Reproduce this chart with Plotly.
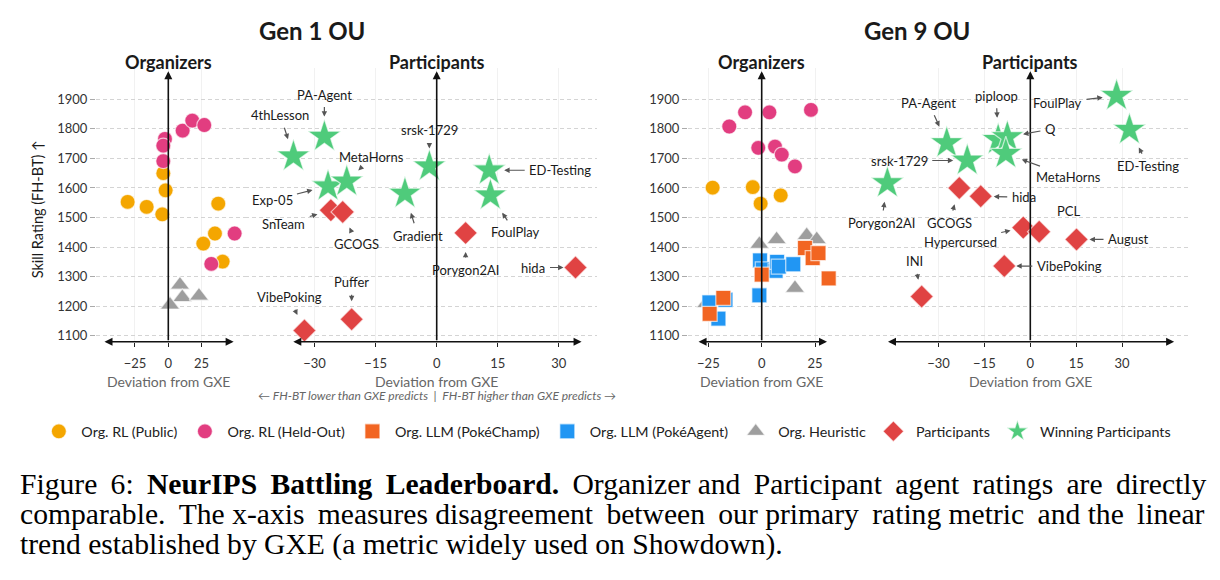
import plotly.graph_objects as go

# ---------------- data ----------------
# Gen 1 OU - organizers
g1_public_x = [-3.75, -2.0, -30.5, -16.25, -4.5, 37.5, 35.0, 26.25, 40.75]
g1_public_y = [1650, 1592, 1553, 1536, 1511, 1547, 1446, 1412, 1351]
g1_heldout_x = [-2.5, -3.75, -3.75, 10.75, 18.0, 27.0, 49.75, 32.25]
g1_heldout_y = [1766, 1743, 1691, 1794, 1828, 1813, 1446, 1343]
g1_heur_x = [8.75, 10.5, 23.0, 1.25]
g1_heur_y = [1272, 1230, 1235, 1205]
# Gen 1 OU - participants
g1_win_names = ["4thLesson", "PA-Agent", "Exp-05", "MetaHorns", "Gradient", "srsk-1729", "ED-Testing", "FoulPlay"]
g1_win_x = [-35.2, -27.6, -26.7, -22.1, -7.8, -1.8, 12.9, 13.2]
g1_win_y = [1707, 1774, 1606, 1622, 1581, 1673, 1660, 1575]
g1_part_names = ["SnTeam", "GCOGS", "Porygon2AI", "hida", "VibePoking", "Puffer"]
g1_part_x = [-26.0, -23.1, 7.1, 34.1, -32.5, -20.9]
g1_part_y = [1525, 1519, 1448, 1331, 1118, 1156]

# Gen 9 OU - organizers
g9_public_x = [-23.0, -4.2, 8.9, -0.5]
g9_public_y = [1601, 1603, 1575, 1547]
g9_heldout_x = [-15.2, -7.8, 3.6, 23.1, -1.6, 6.25, 9.4, 15.6]
g9_heldout_y = [1808, 1856, 1856, 1864, 1736, 1740, 1713, 1673]
g9_heur_x = [-1.1, 7.0, 21.1, 25.8, 15.6, -26.0]
g9_heur_y = [1410, 1426, 1440, 1426, 1261, 1210]
g9_agent_x = [-0.8, 0.5, 6.5, 7.2, 8.0, 14.8, -1.1, -24.5, -17.0, -20.3]
g9_agent_y = [1355, 1325, 1320, 1350, 1334, 1342, 1237, 1213, 1222, 1158]
g9_champ_x = [20.3, 23.9, 26.6, 31.4, 0.0, -18.0, -24.4]
g9_champ_y = [1397, 1363, 1380, 1294, 1307, 1228, 1174]
# Gen 9 OU - participants
g9_win_names = ["FoulPlay", "ED-Testing", "PA-Agent", "srsk-1729", "piploop", "Q", "MetaHorns", "Porygon2AI"]
g9_win_x = [28.2, 32.4, -27.3, -20.6, -10.5, -7.5, -8.0, -46.7]
g9_win_y = [1912, 1797, 1752, 1693, 1763, 1772, 1716, 1617]
g9_part_names = ["GCOGS", "hida", "Hypercursed", "PCL", "August", "VibePoking", "INI"]
g9_part_x = [-23.2, -16.2, -2.3, 2.9, 15.1, -8.5, -35.5]
g9_part_y = [1600, 1572, 1466, 1452, 1426, 1336, 1233]

y_ticks = [1100, 1200, 1300, 1400, 1500, 1600, 1700, 1800, 1900]
org_ticks = [-25, 0, 25]
part_ticks = [-30, -15, 0, 15, 30]

# ---------------- label placement (pixel offsets: ax, ay, standoff) ----------------
g1_label_pos = {
    "4thLesson": (-13, -41, 18), "PA-Agent": (0, -42, 20), "Exp-05": (-56, 14, 16),
    "MetaHorns": (25, -24, 16), "Gradient": (13, 42, 20), "srsk-1729": (0, -36, 18),
    "ED-Testing": (71, 0, 15), "FoulPlay": (25, 37, 21), "SnTeam": (-47, 14, 14),
    "GCOGS": (14, 32, 17), "Porygon2AI": (0, 37, 19), "hida": (-42, 0, 12),
    "VibePoking": (-15, -33, 17), "Puffer": (0, -37, 18),
}
g9_label_pos = {
    "piploop": (-2, -44, 22), "PA-Agent": (-18, -40, 18), "FoulPlay": (-59, 7, 14),
    "Q": (43, -8, 16), "ED-Testing": (19, 36, 20), "srsk-1729": (-68, 0, 14),
    "MetaHorns": (63, 23, 17), "hida": (43, 1, 13), "Porygon2AI": (-6, 40, 19),
    "GCOGS": (-10, 35, 17), "PCL": (29, -21, 16), "Hypercursed": (-63, 14, 13),
    "August": (52, 0, 13), "VibePoking": (65, 0, 12), "INI": (-7, -35, 17),
}

# ---------------- styles ----------------
FONT = "Lato"
C_PUBLIC = "#F4A600"
C_HELD = "#E23D80"
C_CHAMP = "#F26522"
C_AGENT = "#2196F3"
C_HEUR = "#9E9E9E"
C_PART = "#E04343"
C_WIN = "#4FCB7B"
EDGE = dict(color="rgba(255,255,255,0.65)", width=1.2)

W, H = 1220, 580

def px_x(p):
    return p / W

def px_y(p):
    return 1 - p / H

Y_RANGE = [1080, 2005]
Y_DOMAIN = [px_y(342.9), px_y(68.5)]

panels = {
    # name: (xaxis id, domain px, zero px, px per unit, ticks)
    "o1": ("x", (96, 245), 168.3, 1.333, org_ticks),
    "p1": ("x2", (245, 597), 436.7, 4.07, part_ticks),
    "o2": ("x3", (688, 855), 761.7, 2.133, org_ticks),
    "p2": ("x4", (855, 1190), 1030.3, 3.06, part_ticks),
}
arrow_span = {"o1": (-49, 49), "p1": (-35.6, 35.6), "o2": (-30.3, 30.6), "p2": (-47, 47)}

fig = go.Figure()

def add(xref, yref, x, y, name, color, symbol, size, group, rank, show, text=None):
    fig.add_trace(go.Scatter(
        x=x, y=y, mode="markers", name=name, legendgroup=group, legendrank=rank,
        showlegend=show, xaxis=xref, yaxis=yref, cliponaxis=False,
        marker=dict(color=color, symbol=symbol, size=size, line=EDGE),
        hovertext=text,
    ))

# Gen 1 organizers
add("x", "y", g1_heur_x, g1_heur_y, "Org. Heuristic", C_HEUR, "triangle-up", 17, "heur", 5, True)
add("x", "y", g1_public_x, g1_public_y, "Org. RL (Public)", C_PUBLIC, "circle", 15, "pub", 1, True)
add("x", "y", g1_heldout_x, g1_heldout_y, "Org. RL (Held-Out)", C_HELD, "circle", 15, "held", 2, True)
# Gen 1 participants
add("x2", "y2", g1_part_x, g1_part_y, "Participants", C_PART, "diamond", 18, "part", 6, True, g1_part_names)
add("x2", "y2", g1_win_x, g1_win_y, "Winning Participants", C_WIN, "star", 25, "win", 7, True, g1_win_names)
# Gen 9 organizers
add("x3", "y3", g9_heur_x, g9_heur_y, "Org. Heuristic", C_HEUR, "triangle-up", 17, "heur", 5, False)
add("x3", "y3", g9_public_x, g9_public_y, "Org. RL (Public)", C_PUBLIC, "circle", 15, "pub", 1, False)
add("x3", "y3", g9_heldout_x, g9_heldout_y, "Org. RL (Held-Out)", C_HELD, "circle", 15, "held", 2, False)
add("x3", "y3", g9_agent_x, g9_agent_y, "Org. LLM (PokéAgent)", C_AGENT, "square", 15, "agent", 4, True)
add("x3", "y3", g9_champ_x, g9_champ_y, "Org. LLM (PokéChamp)", C_CHAMP, "square", 15, "champ", 3, True)
# Gen 9 participants
add("x4", "y4", g9_part_x, g9_part_y, "Participants", C_PART, "diamond", 18, "part", 6, False, g9_part_names)
add("x4", "y4", g9_win_x, g9_win_y, "Winning Participants", C_WIN, "star", 25, "win", 7, False, g9_win_names)

annotations = []
layout_axes = {}
for i, (key, (xid, (d0, d1), zero, scale, ticks)) in enumerate(panels.items()):
    n = i + 1
    xr = [(d0 - zero) / scale, (d1 - zero) / scale]
    xname = "xaxis" if n == 1 else f"xaxis{n}"
    yname = "yaxis" if n == 1 else f"yaxis{n}"
    yid = "y" if n == 1 else f"y{n}"
    layout_axes[xname] = dict(
        domain=[px_x(d0), px_x(d1)], range=xr, anchor=yid, tickvals=ticks,
        showgrid=True, gridcolor="#f1f1f1", gridwidth=1, zeroline=False, showline=False,
        ticks="outside", ticklen=4, tickcolor="#222", tickwidth=1, ticklabelstandoff=6,
        tickfont=dict(family=FONT, size=13, color="#333"), fixedrange=True,
    )
    show_labels = key in ("o1", "o2")
    layout_axes[yname] = dict(
        domain=Y_DOMAIN, range=Y_RANGE, anchor=xid, tickvals=y_ticks,
        showgrid=True, gridcolor="#d4d4d4", griddash="4px,3px", gridwidth=1,
        zeroline=False, showline=False, showticklabels=show_labels,
        ticks="outside" if show_labels else "", ticklen=5, tickcolor="#aaa",
        tickfont=dict(family=FONT, size=13, color="#333"), fixedrange=True,
    )
    a0, a1 = arrow_span[key]
    annotations.append(dict(
        xref=xid, yref=yid, axref=xid, ayref=yid, x=a1, y=Y_RANGE[0], ax=a0, ay=Y_RANGE[0],
        text="", showarrow=True, arrowhead=2, arrowside="end+start", arrowsize=1,
        arrowwidth=1.6, arrowcolor="#111",
    ))
    annotations.append(dict(
        xref=xid, yref=yid, axref=xid, ayref=yid, x=0, y=1995, ax=0, ay=Y_RANGE[0],
        text="", showarrow=True, arrowhead=2, arrowsize=1, arrowwidth=1.6, arrowcolor="#111",
    ))
    annotations.append(dict(
        xref=xid, yref="paper", x=0, y=px_y(62),
        text="<b>%s</b>" % ("Organizers" if key[0] == "o" else "Participants"),
        showarrow=False, font=dict(family=FONT, size=18, color="#1a1a1a"),
        xanchor="center", yanchor="middle",
    ))
    annotations.append(dict(
        xref=xid, yref="paper", x=0, y=px_y(383), text="Deviation from GXE",
        showarrow=False, font=dict(family=FONT, size=14, color="#666"),
        xanchor="center", yanchor="middle",
    ))

def label(names, xs, ys, pos, xid, yid):
    for nm, xv, yv in zip(names, xs, ys):
        ax, ay, so = pos[nm]
        annotations.append(dict(
            xref=xid, yref=yid, x=xv, y=yv, ax=ax, ay=ay, text=nm, showarrow=True,
            arrowhead=2, arrowsize=0.9, arrowwidth=1.2, arrowcolor="#555", standoff=so,
            startstandoff=3, font=dict(family=FONT, size=13, color="#1a1a1a"),
        ))

label(g1_win_names, g1_win_x, g1_win_y, g1_label_pos, "x2", "y2")
label(g1_part_names, g1_part_x, g1_part_y, g1_label_pos, "x2", "y2")
label(g9_win_names, g9_win_x, g9_win_y, g9_label_pos, "x4", "y4")
label(g9_part_names, g9_part_x, g9_part_y, g9_label_pos, "x4", "y4")

annotations.append(dict(xref="paper", yref="paper", x=px_x(311.7), y=px_y(30.5), text="<b>Gen 1 OU</b>",
                        xanchor="center", yanchor="middle", showarrow=False,
                        font=dict(family=FONT, size=24, color="#1a1a1a")))
annotations.append(dict(xref="paper", yref="paper", x=px_x(916.7), y=px_y(30.5), text="<b>Gen 9 OU</b>",
                        xanchor="center", yanchor="middle", showarrow=False,
                        font=dict(family=FONT, size=24, color="#1a1a1a")))
annotations.append(dict(xref="paper", yref="paper", x=px_x(37), y=px_y(210), text="Skill Rating (FH-BT) ↑",
                        xanchor="center", yanchor="middle", textangle=-90, showarrow=False,
                        font=dict(family=FONT, size=14.5, color="#1a1a1a")))
annotations.append(dict(xref="x2", yref="paper", x=0, y=px_y(397),
                        text="<i>← FH-BT lower than GXE predicts  |  FH-BT higher than GXE predicts →</i>",
                        xanchor="center", yanchor="middle", showarrow=False,
                        font=dict(family=FONT, size=12, color="#666")))

# caption (justified lines approximated by adding thin spaces)
cap = [
    "Figure 6: <b>NeurIPS Battling Leaderboard.</b> Organizer and Participant agent ratings are directly",
    "comparable. The x-axis measures disagreement between our primary rating metric and the linear",
    "trend established by GXE (a metric widely used on Showdown).",
]
cap_extra = [10, 7, 0]

def justify(line, extra):
    parts = line.split(" ")
    gaps = len(parts) - 1
    if extra <= 0 or gaps <= 0:
        return line
    out = parts[0]
    given = 0
    for g in range(gaps):
        want = round((g + 1) * extra / gaps)
        sep = " " + "\u2009" * (want - given)
        given = want
        out += sep + parts[g + 1]
    return out

for line, ex, yp in zip(cap, cap_extra, [486, 516, 546]):
    annotations.append(dict(xref="paper", yref="paper", x=px_x(18), y=px_y(yp), text=justify(line, ex),
                            xanchor="left", yanchor="middle", showarrow=False,
                            font=dict(family="Liberation Serif", size=29.6, color="#000")))

fig.update_layout(
    width=W, height=H, margin=dict(l=0, r=0, t=0, b=0),
    paper_bgcolor="white", plot_bgcolor="white",
    annotations=annotations,
    legend=dict(orientation="h", x=0.497, xanchor="center", y=px_y(433), yanchor="middle",
                font=dict(family=FONT, size=14.3, color="#222"), itemsizing="trace", itemwidth=35,
                traceorder="normal", bgcolor="rgba(0,0,0,0)"),
    showlegend=True,
    **layout_axes,
)

fig.write_html("out.html")
